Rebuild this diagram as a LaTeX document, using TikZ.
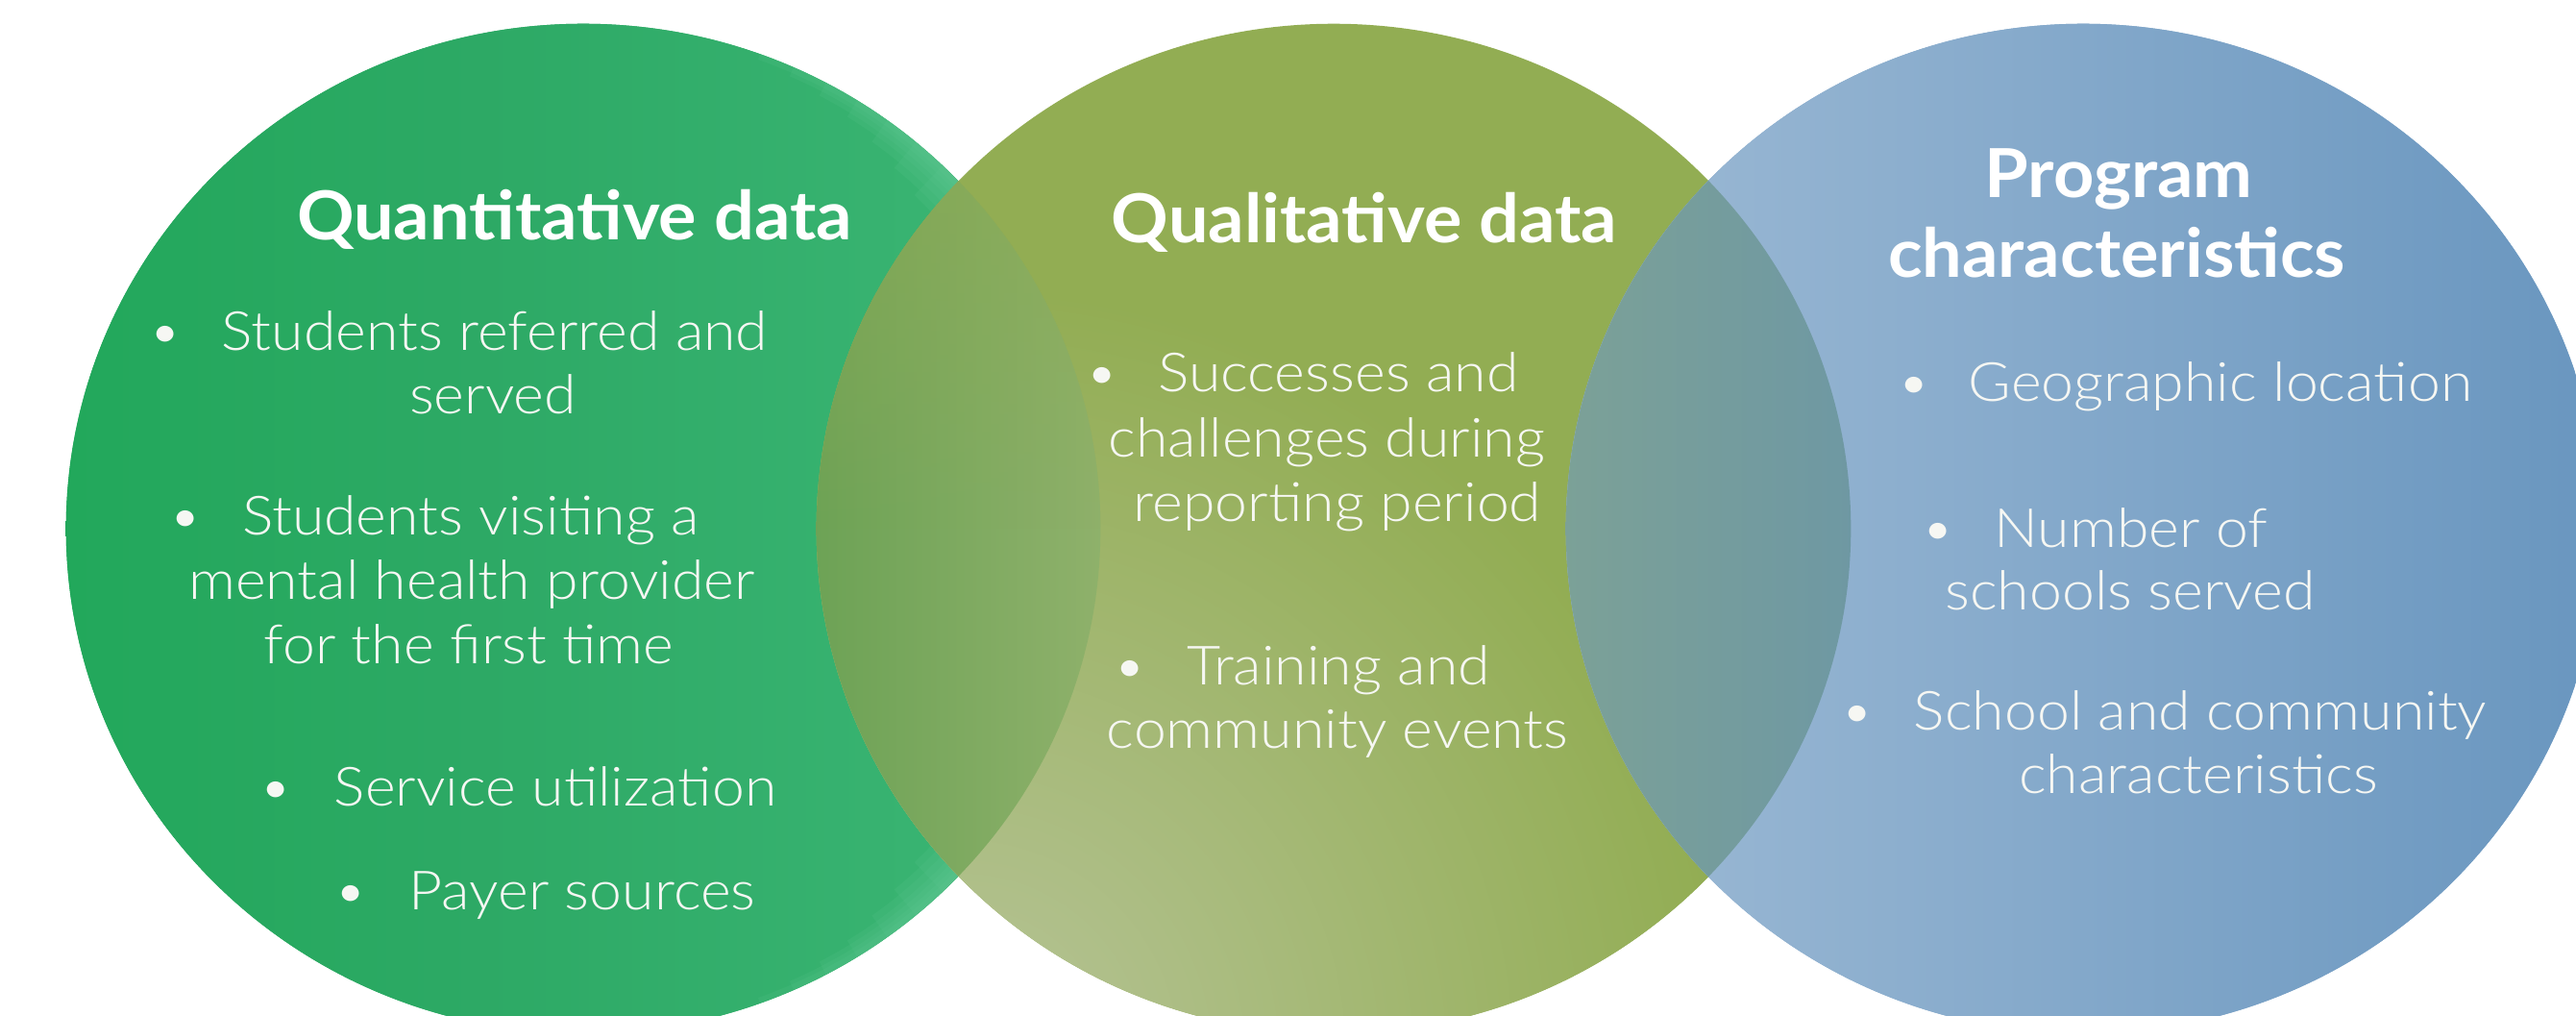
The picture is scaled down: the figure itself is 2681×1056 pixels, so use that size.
\documentclass[tikz,border=0pt]{standalone}
\usepackage{fontspec}
\setmainfont{Lato}
\newfontfamily\bodyfont{Lato Light}[FakeStretch=1.08]
\newfontfamily\titlefont{Lato}[FakeStretch=1.05]
\usetikzlibrary{fadings}

\definecolor{gA}{HTML}{22A85B}
\definecolor{gB}{HTML}{2DA965}
\definecolor{gC}{HTML}{38B371}
\definecolor{gD}{HTML}{3CB675}
\definecolor{gE}{HTML}{6ACD9B}
\definecolor{oL}{HTML}{B7C498}
\definecolor{oD}{HTML}{92AD53}
\definecolor{bL}{HTML}{9DBAD5}
\definecolor{bR}{HTML}{6996BF}
\definecolor{lA}{HTML}{6CA255}
\definecolor{lB}{HTML}{8FB16B}
\definecolor{lT}{HTML}{8EAB54}
\definecolor{mA}{HTML}{7CA197}
\definecolor{mB}{HTML}{6E98A3}
\definecolor{txtw}{HTML}{F6F7F3}

\pgfdeclarehorizontalshading{greenshade}{100bp}{color(0bp)=(gA); color(25bp)=(gA); color(45bp)=(gB); color(66bp)=(gC); color(75bp)=(gD); color(100bp)=(gD)}
\tikzfading[name=fadetop, top color=transparent!0, bottom color=transparent!100]

\tikzset{
  ttl/.style={text=white, font=\fontsize{20}{24}\selectfont\titlefont\bfseries, anchor=base, inner sep=0pt},
  bod/.style={text=txtw, font=\fontsize{16}{19}\selectfont\bodyfont, anchor=base, inner sep=0pt},
  bul/.style={bod},
  ellG/.style={x radius=5.38cm, y radius=5.25cm},
  glow/.style={draw=gE, draw opacity=0.12, line cap=butt}
}

\begin{document}
\begin{tikzpicture}[x=0.01cm, y=-0.01cm]
\useasboundingbox (0,0) rectangle (2681,1056);
\fill[white] (0,0) rectangle (2681,1056);

% green circle with a soft light rim on its right side
\fill[gA!60!gC] (607,550) ellipse [ellG];
\shade[shading=greenshade] (607,550) ellipse [ellG];
\begin{scope}
  \clip (607,550) ellipse [ellG];
  \foreach \a/\w in {34/13, 38/11.5, 42/10, 46/8.5, 50/7, 54/5.5, 58/4, 62/3, 66/2, 70/1.2} {
    \path[glow, line width=\w mm] ([shift={(\a:5.38cm and 5.25cm)}]607,550) arc [start angle=\a, end angle=-\a, x radius=5.38cm, y radius=5.25cm];
  }
\end{scope}

% olive circle: dark olive, lighter towards the lower left
\fill[oD] (1388,550) ellipse [ellG];
\begin{scope}
  \clip (1388,550) ellipse [ellG];
  \shade[inner color=oL, outer color=oD] (1000,1100) circle (8cm);
\end{scope}

% blue circle
\fill[bL!50!bR] (2168,550) ellipse [ellG];
\shade[left color=bL, right color=bR] (2168,550) ellipse [ellG];

% lens green/olive
\begin{scope}
  \clip (607,550) ellipse [ellG];
  \clip (1388,550) ellipse [ellG];
  \shade[left color=lA, right color=lB] (840,25) rectangle (1150,1075);
  \fill[lT, path fading=fadetop, opacity=0.8] (840,25) rectangle (1150,550);
\end{scope}
% lens olive/blue
\begin{scope}
  \clip (1388,550) ellipse [ellG];
  \clip (2168,550) ellipse [ellG];
  \shade[left color=mA, right color=mB] (1622,25) rectangle (1934,1075);
\end{scope}

% left circle texts
\node[ttl] (t1) at (598,249) {Quantitative data};
\node[bod] (l1) at (515,364) {Students referred and};
\node[bul] (b1) at ([xshift=-0.58cm] l1.base west) {\textbullet};
\node[bod] (l2) at (513,430) {served};
\node[bod] (l3) at (490,556) {Students visiting a};
\node[bul] (b3) at ([xshift=-0.58cm] l3.base west) {\textbullet};
\node[bod] (l4) at (491,623) {mental health provider};
\node[bod] (l5) at (488,690) {for the first time};
\node[bod] (l6) at (578,838) {Service utilization};
\node[bul] (b6) at ([xshift=-0.60cm] l6.base west) {\textbullet};
\node[bod] (l7) at (606,946) {Payer sources};
\node[bul] (b7) at ([xshift=-0.60cm] l7.base west) {\textbullet};

% middle circle texts
\node[ttl] (t2) at (1420,252) {Qualitative data};
\node[bod] (m1) at (1393,407) {Successes and};
\node[bul] (c1) at ([xshift=-0.58cm] m1.base west) {\textbullet};
\node[bod] (m2) at (1381,475) {challenges during};
\node[bod] (m3) at (1392,542) {reporting period};
\node[bod] (m4) at (1393,712) {Training and};
\node[bul] (c4) at ([xshift=-0.58cm] m4.base west) {\textbullet};
\node[bod] (m5) at (1392,778) {community events};

% right circle texts
\node[ttl] (t3) at (2205,205) {Program};
\node[ttl] (t4) at (2203,288) {characteristics};
\node[bod] (r1) at (2311,417) {Geographic location};
\node[bul] (d1) at ([xshift=-0.56cm] r1.base west) {\textbullet};
\node[bod] (r2) at (2218,569) {Number of};
\node[bul] (d2) at ([xshift=-0.58cm] r2.base west) {\textbullet};
\node[bod] (r3) at (2217,634) {schools served};
\node[bod] (r4) at (2290,759) {School and community};
\node[bul] (d4) at ([xshift=-0.58cm] r4.base west) {\textbullet};
\node[bod] (r5) at (2288,825) {characteristics};
\end{tikzpicture}
\end{document}
